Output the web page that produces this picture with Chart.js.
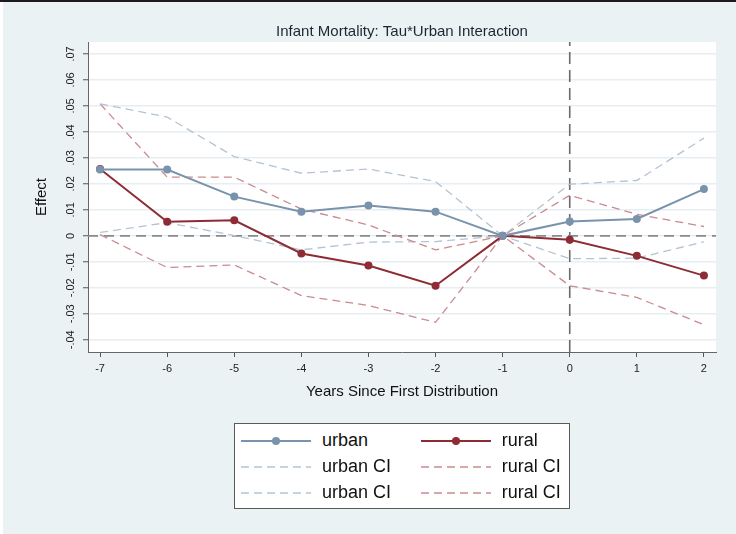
<!DOCTYPE html>
<html>
<head>
<meta charset="utf-8">
<script src="https://cdn.jsdelivr.net/npm/chart.js@4/dist/chart.umd.min.js"></script>
<style>
  html, body { margin: 0; padding: 0; background: #eaf2f3; }
  #wrap { position: relative; width: 736px; height: 534px; overflow: hidden; background: #eaf2f3; }
  #c { position: absolute; left: 0; top: 0; }
  #topbar { position: absolute; left: 0; top: 0; width: 736px; height: 2px; background: #1b1b1b; }
  #leftbar { position: absolute; left: 0; top: 2px; width: 3px; height: 532px; background: #ffffff; }
  #legend {
    position: absolute; left: 234px; top: 423px; width: 334px; height: 84px;
    background: #ffffff; border: 1px solid #5a5a5a;
    font-family: 'Liberation Sans', Arial, sans-serif; font-size: 18px; color: #111;
  }
  .item { position: absolute; height: 26px; display: flex; align-items: center; white-space: nowrap; }
  .item canvas { display: block; margin-right: 11px; }
</style>
</head>
<body>
<div id="wrap">
  <canvas id="c" width="736" height="534"></canvas>
  <div id="legend"></div>
  <div id="topbar"></div>
  <div id="leftbar"></div>
</div>
<script>
// Event-study coefficients: years relative to first distribution
const years   = [-7, -6, -5, -4, -3, -2, -1, 0, 1, 2];
const urban   = [0.0255, 0.0255, 0.0151, 0.0093, 0.0117, 0.0093, 0, 0.0055, 0.0065, 0.0180];
const rural   = [0.0257, 0.0054, 0.0060, -0.0068, -0.0114, -0.0192, 0, -0.0015, -0.0077, -0.0153];
const urbanHi = [0.0508, 0.0457, 0.0305, 0.0241, 0.0257, 0.0209, 0, 0.0199, 0.0213, 0.0376];
const ruralHi = [0.0508, 0.0226, 0.0226, 0.0103, 0.0042, -0.0054, 0, 0.0156, 0.0083, 0.0036];
const urbanLo = [0.0013, 0.0051, 0.0001, -0.0054, -0.0024, -0.0022, 0, -0.0088, -0.0086, -0.0023];
const ruralLo = [0.0005, -0.0122, -0.0112, -0.0230, -0.0268, -0.0333, 0, -0.0192, -0.0237, -0.0342];

// Axis ticks
const xTicks = [-7, -6, -5, -4, -3, -2, -1, 0, 1, 2];
const yTicks = [-0.04, -0.03, -0.02, -0.01, 0, 0.01, 0.02, 0.03, 0.04, 0.05, 0.06, 0.07];

// Reference lines: zero effect and first distribution year
const refY = 0;
const refX = 0;

const X_MIN = -7.18, X_MAX = 2.18;
const Y_MIN = -0.0447, Y_MAX = 0.0746;

const FONT = "'Liberation Sans', Arial, sans-serif";
Chart.defaults.font.family = FONT;

const URBAN = '#7a93ad', RURAL = '#8e2c35';
const URBAN_CI = '#b4c3d3', RURAL_CI = '#c98a90';

const pts = ys => years.map((x, i) => ({ x, y: ys[i] }));

const datasets = [
  { label: 'urban', data: pts(urban), borderColor: URBAN, backgroundColor: URBAN,
    borderWidth: 2, pointRadius: 4, pointBorderWidth: 0, pointBackgroundColor: URBAN },
  { label: 'rural', data: pts(rural), borderColor: RURAL, backgroundColor: RURAL,
    borderWidth: 2, pointRadius: 4, pointBorderWidth: 0, pointBackgroundColor: RURAL },
  { label: 'urban CI', data: pts(urbanHi), borderColor: URBAN_CI, borderWidth: 1.3,
    borderDash: [8, 5], pointRadius: 0 },
  { label: 'rural CI', data: pts(ruralHi), borderColor: RURAL_CI, borderWidth: 1.3,
    borderDash: [8, 5], pointRadius: 0 },
  { label: 'urban CI', data: pts(urbanLo), borderColor: URBAN_CI, borderWidth: 1.3,
    borderDash: [8, 5], pointRadius: 0 },
  { label: 'rural CI', data: pts(ruralLo), borderColor: RURAL_CI, borderWidth: 1.3,
    borderDash: [8, 5], pointRadius: 0 },
  { label: 'yline', ref: true, data: [{ x: X_MIN, y: refY }, { x: X_MAX, y: refY }],
    borderColor: '#8a8a8a', borderWidth: 1.6, borderDash: [10, 6], pointRadius: 0 },
  { label: 'xline', ref: true, data: [{ x: refX, y: Y_MIN }, { x: refX, y: Y_MAX }],
    borderColor: '#6a6a6a', borderWidth: 1.6, borderDash: [12, 6], pointRadius: 0 }
];

// White plot region behind the data
const plotBg = {
  id: 'plotBg',
  beforeDraw(chart) {
    const { ctx, chartArea: a } = chart;
    ctx.save();
    ctx.fillStyle = '#ffffff';
    ctx.fillRect(a.left, a.top, a.right - a.left, a.bottom - a.top);
    ctx.restore();
  }
};

const fmtY = v => {
  if (Math.abs(v) < 1e-9) return '0';
  const s = Math.abs(v).toFixed(2).replace(/^0/, '');
  return (v < 0 ? '-' : '') + s;
};

const chart = new Chart(document.getElementById('c'), {
  type: 'line',
  data: { datasets },
  options: {
    responsive: false,
    animation: false,
    devicePixelRatio: 1,
    layout: { padding: { left: 0, right: 20, top: 0, bottom: 132 } },
    plugins: {
      legend: { display: false },
      tooltip: { enabled: false },
      title: {
        display: true,
        fullSize: false,
        text: 'Infant Mortality: Tau*Urban Interaction',
        color: '#1d2733',
        font: { family: FONT, size: 15, weight: 'normal' },
        padding: { top: 23, bottom: 1 }
      }
    },
    scales: {
      x: {
        type: 'linear', min: X_MIN, max: X_MAX,
        afterBuildTicks: axis => { axis.ticks = xTicks.map(v => ({ value: v })); },
        afterFit: s => { s.height = 50; },
        grid: { drawOnChartArea: false, drawTicks: true, tickLength: 5, tickColor: '#555', tickWidth: 1 },
        border: { display: true, color: '#666', width: 1 },
        ticks: { padding: 5, color: '#222', font: { size: 11 }, maxRotation: 0, autoSkip: false,
                 callback: v => String(v) },
        title: { display: true, text: 'Years Since First Distribution', color: '#111',
                 font: { size: 15 }, padding: { top: 0, bottom: 1 } }
      },
      y: {
        type: 'linear', min: Y_MIN, max: Y_MAX,
        afterBuildTicks: axis => { axis.ticks = yTicks.map(v => ({ value: v })); },
        afterFit: s => { s.width = 88; },
        grid: { drawOnChartArea: true, color: '#e6eef1', lineWidth: 1.5, drawTicks: true,
                tickLength: 5, tickColor: '#555', tickWidth: 1 },
        border: { display: true, color: '#666', width: 1 },
        ticks: { padding: 3, color: '#222', font: { size: 11 }, minRotation: 90, maxRotation: 90,
                 crossAlign: 'center', autoSkip: false, callback: v => fmtY(v) },
        title: { display: true, text: 'Effect', color: '#111',
                 font: { size: 15 }, padding: { top: 33, bottom: 0 } }
      }
    }
  },
  plugins: [plotBg]
});

// Two-column legend built from the chart's own legend items
(function buildLegend() {
  const box = document.getElementById('legend');
  const items = Chart.defaults.plugins.legend.labels.generateLabels(chart)
    .filter(it => !chart.data.datasets[it.datasetIndex].ref);
  items.forEach((it, k) => {
    const ds = chart.data.datasets[it.datasetIndex];
    const row = Math.floor(k / 2), col = k % 2;
    const div = document.createElement('div');
    div.className = 'item';
    div.style.left = (col === 0 ? 6 : 185.7) + 'px';
    div.style.top = (3.7 + row * 26) + 'px';
    const cv = document.createElement('canvas');
    cv.width = 70; cv.height = 26;
    const g = cv.getContext('2d');
    g.strokeStyle = ds.borderColor;
    g.lineWidth = ds.borderWidth;
    g.setLineDash(ds.borderDash || []);
    g.beginPath(); g.moveTo(0, 13); g.lineTo(70, 13); g.stroke();
    if (ds.pointRadius > 0) {
      g.setLineDash([]);
      g.fillStyle = ds.pointBackgroundColor;
      g.beginPath(); g.arc(35, 13, ds.pointRadius, 0, Math.PI * 2); g.fill();
    }
    const span = document.createElement('span');
    span.textContent = it.text;
    div.appendChild(cv); div.appendChild(span);
    box.appendChild(div);
  });
})();
</script>
</body>
</html>
